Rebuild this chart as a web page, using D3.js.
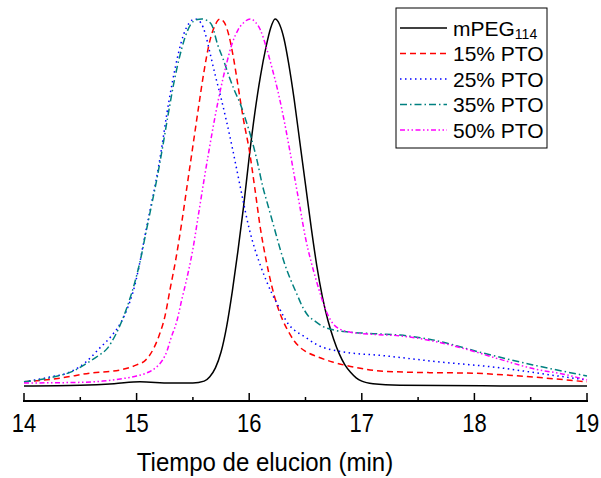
<!DOCTYPE html>
<html>
<head>
<meta charset="utf-8">
<script src="https://cdn.jsdelivr.net/npm/d3@7"></script>
<style>
  body { margin: 0; background: #fff; }
  svg { font-family: Arial, "Liberation Sans", sans-serif; }
</style>
</head>
<body>
<svg width="601" height="478"></svg>
<script>
// elution time (min), normalised intensity
let mpeg = [[14.00,0.003],[14.50,0.005],[14.80,0.009],[15.03,0.014],[15.30,0.011],[15.50,0.011],[15.60,0.016],
  [15.65,0.028],[15.70,0.052],[15.75,0.095],[15.80,0.165],[15.85,0.26],[15.90,0.37],[15.95,0.49],[16.00,0.625],
  [16.05,0.745],[16.10,0.845],[16.15,0.925],[16.19,0.975],[16.23,1.0],[16.27,0.985],[16.31,0.945],[16.35,0.88],
  [16.40,0.78],[16.45,0.665],[16.50,0.55],[16.55,0.435],[16.60,0.33],[16.65,0.245],[16.70,0.18],[16.75,0.13],
  [16.80,0.09],[16.85,0.06],[16.90,0.04],[16.95,0.025],[17.00,0.016],[17.10,0.009],[17.34,0.005],[18.23,0.003],
  [19.00,0.003]];

let pto15 = [[14.00,0.014],[14.32,0.024],[14.59,0.038],[14.85,0.046],[15.00,0.060],[15.08,0.073],[15.15,0.104],
  [15.20,0.14],[15.25,0.19],[15.30,0.27],[15.35,0.35],[15.40,0.445],[15.45,0.55],[15.50,0.655],[15.55,0.76],
  [15.60,0.86],[15.65,0.94],[15.70,0.985],[15.74,1.0],[15.78,0.99],[15.82,0.955],[15.86,0.895],[15.90,0.82],
  [15.95,0.725],[16.00,0.645],[16.05,0.54],[16.10,0.43],[16.15,0.345],[16.20,0.275],[16.25,0.22],[16.30,0.18],
  [16.35,0.15],[16.40,0.125],[16.45,0.108],[16.50,0.097],[16.60,0.083],[16.74,0.068],[16.90,0.056],[17.19,0.043],
  [17.60,0.039],[17.93,0.038],[18.52,0.027],[19.00,0.014]];

let pto25 = [[14.00,0.014],[14.23,0.027],[14.41,0.041],[14.55,0.068],[14.67,0.105],[14.78,0.14],[14.86,0.175],
  [14.92,0.215],[14.97,0.26],[15.02,0.325],[15.07,0.405],[15.12,0.481],[15.17,0.556],[15.22,0.645],[15.27,0.745],
  [15.32,0.832],[15.37,0.905],[15.42,0.96],[15.47,0.99],[15.52,1.0],[15.57,0.99],[15.61,0.96],[15.65,0.91],
  [15.70,0.845],[15.75,0.785],[15.80,0.72],[15.85,0.65],[15.90,0.575],[15.95,0.5],[16.00,0.43],[16.05,0.375],
  [16.10,0.33],[16.15,0.29],[16.20,0.255],[16.25,0.225],[16.30,0.195],[16.35,0.17],[16.40,0.155],[16.50,0.135],
  [16.60,0.115],[16.80,0.097],[17.20,0.085],[17.63,0.070],[18.23,0.052],[18.67,0.033],[19.00,0.019]];

let pto35 = [[14.00,0.014],[14.26,0.027],[14.45,0.045],[14.56,0.065],[14.66,0.085],[14.74,0.105],[14.81,0.14],
  [14.87,0.18],[14.93,0.23],[14.98,0.28],[15.03,0.34],[15.08,0.415],[15.13,0.49],[15.18,0.565],[15.23,0.65],
  [15.28,0.74],[15.33,0.825],[15.38,0.895],[15.43,0.95],[15.48,0.985],[15.53,0.998],[15.58,1.0],[15.63,0.995],
  [15.67,0.982],[15.72,0.93],[15.77,0.89],[15.82,0.845],[15.87,0.805],[15.92,0.77],[15.97,0.725],[16.02,0.675],
  [16.07,0.615],[16.12,0.545],[16.17,0.49],[16.22,0.435],[16.27,0.38],[16.32,0.33],[16.37,0.29],[16.42,0.255],
  [16.47,0.22],[16.52,0.195],[16.58,0.18],[16.65,0.165],[16.75,0.155],[16.90,0.149],[17.10,0.145],[17.34,0.141],
  [17.63,0.128],[18.08,0.092],[18.52,0.060],[19.00,0.030]];

let pto50 = [[14.00,0.011],[14.40,0.012],[14.70,0.016],[14.90,0.024],[15.00,0.030],[15.08,0.037],[15.14,0.046],
  [15.19,0.058],[15.23,0.073],[15.27,0.098],[15.30,0.128],[15.36,0.182],[15.40,0.236],[15.45,0.30],[15.50,0.375],
  [15.55,0.47],[15.60,0.565],[15.65,0.655],[15.70,0.74],[15.75,0.815],[15.80,0.88],[15.85,0.935],[15.90,0.97],
  [15.95,0.99],[16.01,1.0],[16.06,0.99],[16.10,0.97],[16.15,0.925],[16.20,0.87],[16.25,0.81],[16.30,0.74],
  [16.35,0.66],[16.40,0.575],[16.45,0.49],[16.50,0.405],[16.55,0.34],[16.60,0.285],[16.65,0.235],[16.70,0.195],
  [16.75,0.17],[16.80,0.158],[16.90,0.149],[17.10,0.143],[17.34,0.139],[17.63,0.125],[17.90,0.105],[18.23,0.075],
  [18.52,0.05],[18.82,0.033],[19.00,0.019]];

let seriesNames = ["mPEG", "15% PTO", "25% PTO", "35% PTO", "50% PTO"];
let xTicks = [14, 15, 16, 17, 18, 19];
let xLabel = "Tiempo de elucion (min)";

let styles = [
  { color: "#000000", dash: null },
  { color: "#ff0000", dash: "6,4" },
  { color: "#0000ff", dash: "1.5,3.5" },
  { color: "#008080", dash: "7,3,1.5,3" },
  { color: "#ff00ff", dash: "5,2.5,1.5,2.5,1.5,2.5" }
];

let svg = d3.select("svg");
let x = d3.scaleLinear().domain([14, 19]).range([24, 587]);
let y = d3.scaleLinear().domain([0, 1]).range([387, 19]);

let line = d3.line()
  .x(d => x(d[0]))
  .y(d => y(d[1]))
  .curve(d3.curveMonotoneX);

let all = [mpeg, pto15, pto25, pto35, pto50];

svg.append("g").selectAll("path")
  .data(all)
  .enter().append("path")
  .attr("d", line)
  .attr("fill", "none")
  .attr("stroke", (d, i) => styles[i].color)
  .attr("stroke-width", 1.5)
  .attr("stroke-dasharray", (d, i) => styles[i].dash);

// x axis, ticks pointing inward
let axisY = 401;
let minor = d3.range(14.5, 19, 1);
let ax = svg.append("g").attr("transform", `translate(0,${axisY})`);
ax.append("line")
  .attr("x1", x(14) - 1).attr("x2", x(19) + 1)
  .attr("stroke", "#000").attr("stroke-width", 2);
ax.selectAll(".major")
  .data(xTicks)
  .enter().append("line")
  .attr("x1", d => x(d)).attr("x2", d => x(d))
  .attr("y1", 0).attr("y2", -8)
  .attr("stroke", "#000").attr("stroke-width", 1.5);
ax.selectAll(".minor")
  .data(minor)
  .enter().append("line")
  .attr("x1", d => x(d)).attr("x2", d => x(d))
  .attr("y1", 0).attr("y2", -4)
  .attr("stroke", "#000").attr("stroke-width", 1.5);

// the labels in the reference look a bit stretched vertically
svg.selectAll(".tick-label")
  .data(xTicks)
  .enter().append("text")
  .attr("class", "tick-label")
  .attr("transform", d => `translate(${x(d)},432) scale(1,1.15)`)
  .attr("text-anchor", "middle")
  .style("font-size", "22px")
  .text(d => d);

svg.append("text")
  .attr("transform", "translate(265,471) scale(1,1.05)")
  .attr("text-anchor", "middle")
  .style("font-size", "24px")
  .text(xLabel);

// legend
let lg = svg.append("g").attr("transform", "translate(396,8)");
lg.append("rect")
  .attr("width", 151).attr("height", 140)
  .attr("fill", "#fff").attr("stroke", "#000").attr("stroke-width", 1);

let row = lg.selectAll(".row")
  .data(seriesNames)
  .enter().append("g")
  .attr("transform", (d, i) => `translate(0,${20 + i * 25.5})`);

row.append("line")
  .attr("x1", 4).attr("x2", 51)
  .attr("stroke", (d, i) => styles[i].color)
  .attr("stroke-width", 1.5)
  .attr("stroke-dasharray", (d, i) => styles[i].dash);

row.append("text")
  .attr("x", 57)
  .attr("dy", "0.36em")
  .style("font-size", "21px")
  .each(function(d, i) {
    let t = d3.select(this);
    t.append("tspan").text(d);
    if (i === 0) t.append("tspan").style("font-size", "14px").attr("dy", "0.25em").text("114");
  });
</script>
</body>
</html>
